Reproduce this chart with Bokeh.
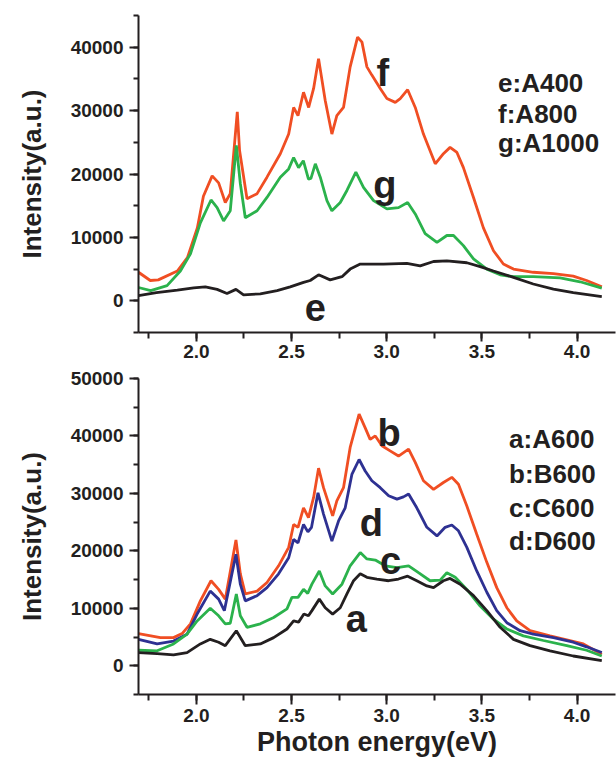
from bokeh.plotting import figure
from bokeh.layouts import column
from bokeh.models import SingleIntervalTicker, NumeralTickFormatter, BasicTickFormatter
from bokeh.core.properties import value
from bokeh.embed import file_html
from bokeh.resources import INLINE

# ---------------- data: top panel (e, f, g) ----------------
f_x = [1.696, 1.758, 1.80, 1.90, 1.953, 2.005, 2.037, 2.083, 2.117, 2.152, 2.178, 2.215, 2.227, 2.266,
       2.319, 2.371, 2.441, 2.485, 2.511, 2.534, 2.563, 2.59, 2.616, 2.642, 2.677, 2.712, 2.738, 2.773,
       2.808, 2.847, 2.87, 2.896, 2.922, 2.966, 3.001, 3.045, 3.071, 3.11, 3.15, 3.193, 3.255, 3.298,
       3.333, 3.369, 3.403, 3.456, 3.508, 3.561, 3.613, 3.666, 3.77, 3.876, 3.98, 4.05, 4.13]
f_y = [4500, 3200, 3300, 4700, 6800, 11500, 16500, 19700, 18600, 15500, 16900, 29800, 23700, 16100,
       16900, 19500, 23200, 26300, 30500, 29200, 32900, 30500, 33500, 38200, 31600, 26300, 29200, 30500,
       36900, 41600, 40800, 36900, 35600, 33500, 31900, 31300, 31900, 33300, 30500, 26300, 21600, 23200,
       24200, 23400, 21000, 16300, 11500, 7900, 5800, 5000, 4500, 4300, 3900, 3200, 2200]

g_x = [1.696, 1.76, 1.846, 1.916, 1.969, 2.021, 2.077, 2.109, 2.143, 2.178, 2.21, 2.231, 2.257, 2.319,
       2.371, 2.441, 2.485, 2.511, 2.537, 2.562, 2.589, 2.602, 2.625, 2.651, 2.686, 2.712, 2.756, 2.791,
       2.838, 2.878, 2.931, 3.001, 3.062, 3.11, 3.15, 3.202, 3.264, 3.316, 3.351, 3.403, 3.456, 3.526,
       3.596, 3.666, 3.77, 3.911, 4.016, 4.13]
g_y = [2100, 1600, 2400, 4700, 7400, 12300, 15900, 14700, 12600, 14200, 24500, 18500, 13100, 14200,
       16300, 19500, 20800, 22600, 21000, 22100, 19200, 19300, 21600, 19500, 15800, 14200, 15500, 17400,
       20300, 17900, 15800, 14500, 14700, 15500, 13700, 10600, 9200, 10300, 10300, 8700, 6600, 5000,
       4100, 3800, 3800, 3600, 3000, 2000]

e_x = [1.696, 1.79, 1.90, 1.986, 2.047, 2.109, 2.161, 2.208, 2.248, 2.336, 2.424, 2.493, 2.563, 2.598,
       2.642, 2.703, 2.765, 2.808, 2.861, 2.983, 3.106, 3.176, 3.246, 3.316, 3.421, 3.491, 3.561, 3.666,
       3.77, 3.876, 3.98, 4.13]
e_y = [800, 1300, 1700, 2050, 2200, 1800, 1150, 1800, 950, 1100, 1600, 2200, 2900, 3200,
       4100, 3300, 3800, 5000, 5800, 5800, 5900, 5500, 6200, 6300, 6000, 5400, 4700, 3700,
       2650, 1850, 1300, 650]

# ---------------- data: bottom panel (a, b, c, d) ----------------
b_x = [1.696, 1.811, 1.88, 1.925, 1.969, 2.021, 2.077, 2.117, 2.152, 2.208, 2.231, 2.257, 2.319, 2.371,
       2.432, 2.485, 2.511, 2.534, 2.563, 2.589, 2.616, 2.642, 2.668, 2.716, 2.738, 2.773, 2.808, 2.855,
       2.887, 2.913, 2.94, 2.975, 3.018, 3.062, 3.115, 3.15, 3.193, 3.246, 3.298, 3.342, 3.377, 3.421,
       3.473, 3.526, 3.578, 3.631, 3.683, 3.753, 3.858, 3.946, 4.033, 4.13]
b_y = [5600, 4900, 4900, 5600, 7300, 11300, 14800, 13300, 11600, 21900, 16000, 12500, 13000, 14500,
       17400, 20600, 24600, 24100, 27500, 25800, 29300, 34400, 31000, 26100, 28700, 31000, 38000, 43800,
       41400, 39400, 40000, 38300, 37400, 36500, 37700, 35400, 32200, 30700, 31900, 32800, 31600, 27800,
       22900, 18000, 13600, 10100, 7800, 6100, 5200, 4500, 3800, 2000]

d_x = [1.696, 1.794, 1.88, 1.951, 2.004, 2.073, 2.117, 2.147, 2.208, 2.231, 2.257, 2.319, 2.371, 2.432,
       2.485, 2.511, 2.534, 2.563, 2.586, 2.605, 2.639, 2.668, 2.712, 2.747, 2.782, 2.817, 2.855, 2.887,
       2.922, 2.966, 3.01, 3.054, 3.088, 3.115, 3.158, 3.211, 3.264, 3.307, 3.342, 3.377, 3.421, 3.473,
       3.526, 3.578, 3.631, 3.701, 3.77, 3.876, 3.98, 4.05, 4.13]
d_y = [4600, 3800, 4300, 5500, 9000, 13000, 11600, 9600, 19400, 14200, 11300, 12200, 13600, 16000,
       18800, 22000, 21400, 24600, 23300, 24100, 30100, 26400, 21700, 25200, 27500, 33300, 35900, 33900,
       32200, 31000, 29600, 29000, 29400, 29900, 27500, 24100, 22600, 24100, 24500, 23500, 20600, 16500,
       12800, 9600, 7500, 6100, 5500, 4900, 4100, 3300, 2300]

c_x = [1.696, 1.794, 1.88, 1.951, 2.004, 2.073, 2.117, 2.152, 2.178, 2.21, 2.231, 2.266, 2.336, 2.406,
       2.476, 2.502, 2.534, 2.563, 2.585, 2.607, 2.646, 2.677, 2.716, 2.765, 2.808, 2.861, 2.896, 2.94,
       2.992, 3.054, 3.115, 3.167, 3.228, 3.281, 3.316, 3.36, 3.421, 3.491, 3.561, 3.631, 3.718, 3.823,
       3.946, 4.05, 4.13]
c_y = [2700, 2600, 3800, 5500, 7800, 10000, 8700, 7300, 7400, 12500, 8700, 6700, 7300, 8400,
       9900, 11900, 11900, 13300, 12600, 14200, 16500, 13900, 12500, 14200, 17400, 19700, 18600, 18400,
       17400, 17100, 17400, 16200, 14800, 14900, 16200, 15400, 13300, 10400, 8100, 6400, 5200, 4400,
       3500, 2700, 1700]

a_x = [1.696, 1.794, 1.88, 1.951, 2.021, 2.073, 2.117, 2.152, 2.21, 2.257, 2.336, 2.406, 2.476, 2.511,
       2.537, 2.565, 2.589, 2.607, 2.646, 2.677, 2.716, 2.756, 2.791, 2.826, 2.861, 2.896, 2.948, 3.01,
       3.062, 3.11, 3.158, 3.211, 3.246, 3.298, 3.333, 3.386, 3.456, 3.526, 3.596, 3.666, 3.753, 3.858,
       3.98, 4.13]
a_y = [2300, 2100, 1900, 2300, 3800, 4600, 4100, 3500, 6100, 3500, 3800, 4900, 6400, 7800,
       7600, 9000, 8700, 9600, 11600, 10100, 9000, 10100, 12500, 14800, 16000, 15400, 15100, 14800,
       15100, 15600, 14800, 13900, 13600, 14800, 15200, 14200, 12200, 9600, 6700, 4600, 3500, 2600,
       1700, 900]

# ---------------- annotations ----------------
top_letters = ["f", "g", "e"]
top_letters_x = [2.98, 2.99, 2.625]
top_letters_y = [36000, 18200, -1100]
top_legend = ["e:A400", "f:A800", "g:A1000"]
top_legend_x = [3.585, 3.585, 3.585]
top_legend_y = [34400, 29500, 24900]

bot_letters = ["b", "d", "c", "a"]
bot_letters_x = [3.013, 2.92, 3.02, 2.84]
bot_letters_y = [40500, 24900, 18300, 8200]
bot_legend = ["a:A600", "b:B600", "c:C600", "d:D600"]
bot_legend_x = [3.643, 3.643, 3.643, 3.643]
bot_legend_y = [39500, 33400, 27500, 21700]

ORANGE = "#F04E23"
GREEN = "#2BB24C"
BLUE = "#2E3192"
BLACK = "#231F20"
FONT = "Liberation Sans"
LW = 2.8


def style(p, xlabel, x_tick_out, x_standoff):
    p.outline_line_color = None
    p.xgrid.visible = False
    p.ygrid.visible = False
    p.background_fill_color = None
    p.border_fill_color = "white"
    for ax in (p.xaxis[0], p.yaxis[0]):
        ax.axis_line_width = 2
        ax.axis_line_color = BLACK
        ax.major_tick_line_width = 2
        ax.minor_tick_line_width = 2
        ax.major_tick_line_color = BLACK
        ax.minor_tick_line_color = BLACK
        ax.major_tick_in = 0
        ax.minor_tick_in = 0
        ax.major_label_text_font = FONT
        ax.major_label_text_font_style = "bold"
        ax.major_label_text_font_size = "19px"
        ax.major_label_text_color = BLACK
        ax.axis_label_text_font = FONT
        ax.axis_label_text_font_style = "bold"
        ax.axis_label_text_font_size = "26px"
        ax.axis_label_text_color = BLACK
    xa = p.xaxis[0]
    xa.ticker = SingleIntervalTicker(interval=0.5, num_minor_ticks=2)
    xa.formatter = NumeralTickFormatter(format="0.0")
    xa.major_tick_out = x_tick_out
    xa.minor_tick_out = 6
    xa.major_label_standoff = x_standoff
    xa.axis_label = xlabel
    xa.axis_label_standoff = 2
    xa.axis_label_text_font_size = "27px"
    ya = p.yaxis[0]
    ya.ticker = SingleIntervalTicker(interval=10000, num_minor_ticks=2)
    ya.formatter = BasicTickFormatter(use_scientific=False)
    ya.major_tick_out = 9
    ya.minor_tick_out = 5
    ya.major_label_standoff = 6
    ya.axis_label = "Intensity(a.u.)"
    ya.axis_label_standoff = 21


X_RANGE = (1.696, 4.202)

p1 = figure(width=616, height=366, x_range=X_RANGE, y_range=(-5000, 45000),
            output_backend="svg", toolbar_location=None,
            min_border_left=138, min_border_right=1, min_border_top=15, min_border_bottom=34)
style(p1, None, 9, 3)
p1.line(f_x, f_y, line_color=ORANGE, line_width=LW)
p1.line(g_x, g_y, line_color=GREEN, line_width=LW)
p1.line(e_x, e_y, line_color=BLACK, line_width=LW)
p1.text(x=top_letters_x, y=top_letters_y, text=top_letters, text_font=value(FONT),
        text_font_style="bold", text_font_size="38px", text_color=BLACK,
        text_align="center", text_baseline="alphabetic")
p1.text(x=top_legend_x, y=top_legend_y, text=top_legend, text_font=value(FONT),
        text_font_style="bold", text_font_size="26px", text_color=BLACK,
        text_align="left", text_baseline="alphabetic")

p2 = figure(width=616, height=404, x_range=X_RANGE, y_range=(-5000, 50000),
            output_backend="svg", toolbar_location=None,
            min_border_left=138, min_border_right=1, min_border_top=12, min_border_bottom=76)
style(p2, "Photon energy(eV)", 10, 4)
p2.line(b_x, b_y, line_color=ORANGE, line_width=LW)
p2.line(d_x, d_y, line_color=BLUE, line_width=LW)
p2.line(c_x, c_y, line_color=GREEN, line_width=LW)
p2.line(a_x, a_y, line_color=BLACK, line_width=LW)
p2.text(x=bot_letters_x, y=bot_letters_y, text=bot_letters, text_font=value(FONT),
        text_font_style="bold", text_font_size="38px", text_color=BLACK,
        text_align="center", text_baseline="alphabetic")
p2.text(x=bot_legend_x, y=bot_legend_y, text=bot_legend, text_font=value(FONT),
        text_font_style="bold", text_font_size="26px", text_color=BLACK,
        text_align="left", text_baseline="alphabetic")

layout = column(p1, p2)
open("out.html", "w").write(file_html(layout, INLINE))
